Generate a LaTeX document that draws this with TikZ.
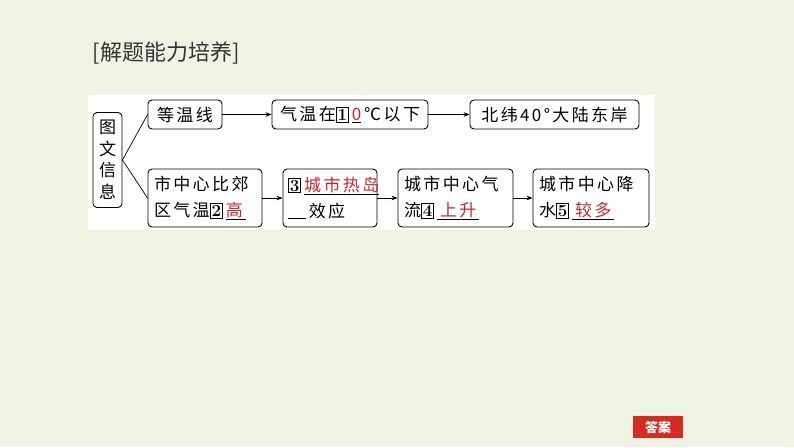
\documentclass[tikz,border=0pt]{standalone}
\usepackage{fontspec}
\newfontfamily\cjk[LetterSpace=14]{Noto Sans CJK SC}
\newfontfamily\cjkt{Noto Sans CJK SC}
\usetikzlibrary{arrows.meta,positioning}
\definecolor{beijing}{HTML}{EEF3E4}
\definecolor{daan}{HTML}{C8282D}
\definecolor{anniu}{HTML}{D62B1F}
\newcommand{\kuang}[1]{\fbox{\fontsize{17}{17}\rmfamily\bfseries\selectfont #1}}
\newcommand{\tian}[1]{\underline{\textcolor{daan}{#1}}}
\setlength{\fboxsep}{1pt}
\setlength{\fboxrule}{0.9pt}

\begin{document}
\begin{tikzpicture}[x=1pt,y=-1pt,
		kuangti/.style={draw,rounded corners=4pt,line width=0.9pt,inner sep=0pt,
			font=\cjk\fontsize{17}{26}\selectfont},
		hangti/.style={kuangti,align=left,text width=#1,inner xsep=6pt,minimum height=58pt},
		jiantou/.style={-{Stealth[length=6pt,width=4.5pt]},line width=0.7pt}]
	\fill[beijing] (0,0) rectangle (794,447);
	\useasboundingbox (0,0) rectangle (794,447);
	\fill[white] (88,95) rectangle (655,230);
	% biaoti
	\node[font=\cjkt\fontsize{22}{26}\selectfont,text=black!80] (biaoti) at (166,53) {[解题能力培养]};
	% kuang
	\node[kuangti,align=center,minimum width=29pt,minimum height=95pt,
		font=\cjk\fontsize{17}{21.5}\selectfont] (xinxi) at (107.5,160) {图\\文\\信\\息};
	\node[kuangti,minimum width=74pt,minimum height=29pt] (dengwen) at (185,114.5) {等温线};
	\node[kuangti,minimum width=156pt,minimum height=29pt] (qiwen) at (350,114.5) {气温在\kuang{1}\,\tian{0}\,℃以下};
	\node[kuangti,minimum width=169pt,minimum height=29pt] (beiwei) at (554.5,114.5) {北纬40°大陆东岸};
	\node[hangti=102pt] (shiqu) at (205,198) {市中心比郊\\区气温\kuang{2}\,\tian{高\,}};
	\node[hangti=84pt,inner xsep=5pt] (redao) at (330,198) {\kuang{3}\,\underline{\textcolor{daan}{城市热岛}}\\\underline{\hspace{18pt}}\,效应};
	\node[hangti=103pt] (qiliu) at (455.5,198) {城市中心气\\流\kuang{4}\,\underline{\,\textcolor{daan}{上升}\,}};
	\node[hangti=104pt] (jiangshui) at (591,198) {城市中心降\\水\kuang{5}\,\underline{\,\textcolor{daan}{较多}\,}};
	% lianxian
	\draw[line width=0.7pt] (xinxi.east) -- (dengwen.west);
	\draw[line width=0.7pt] (xinxi.east) -- (shiqu.west);
	\draw[jiantou] (dengwen) -- (qiwen);
	\draw[jiantou] (qiwen) -- (beiwei);
	\draw[jiantou] (shiqu) -- (redao);
	\draw[jiantou] (redao) -- (qiliu);
	\draw[jiantou] (qiliu) -- (jiangshui);
	% anniu
	\node[fill=anniu,text=white,minimum width=50pt,minimum height=22pt,inner sep=0pt,
		font=\cjkt\bfseries\fontsize{13}{15}\selectfont] (daanniu) at (658,427) {答案};
\end{tikzpicture}
\end{document}
